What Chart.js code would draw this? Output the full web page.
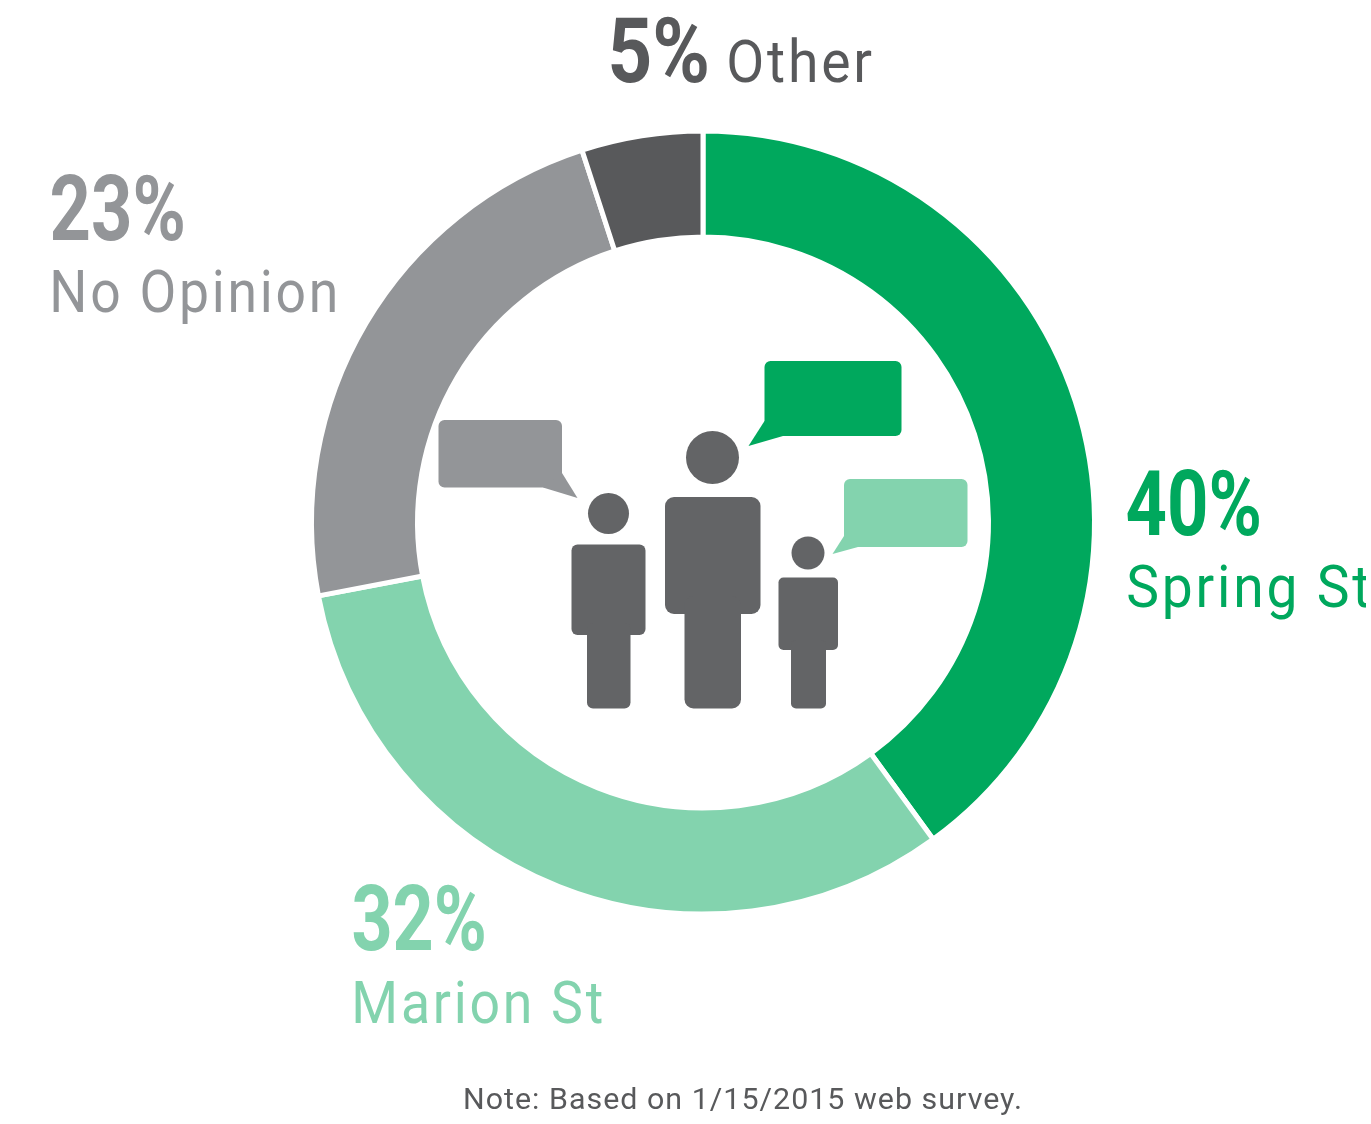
<!DOCTYPE html>
<html><head><meta charset="utf-8">
<style>html,body{margin:0;padding:0;background:#fff;overflow:hidden}#w{width:1371px;height:1124px}</style>
<script src="https://cdn.jsdelivr.net/npm/chart.js@4"></script></head>
<body><div id="w"><canvas id="c" width="1371" height="1124"></canvas></div>
<script>
const categories = ['Spring St','Marion St','No Opinion','Other'];
const values = [40,32,23,5];
const colors = ['#00a85d','#83d3ae','#939598','#58595b'];
const note = 'Note: Based on 1/15/2015 web survey.';
// label layout: [pct x, pct baseline, pct width, name x, name baseline, name width]
const labelPos = [
 [1127,535,132,1128,607,241],
 [353,950,131,355,1023,247],
 [52,240,131,53,312,282],
 [611,82,96,729,82,143]
];
const numFont = 'bold 90px "Liberation Sans Narrow","Roboto",sans-serif';
const nameFont = '400 59px "Roboto","Liberation Sans",sans-serif';
function fit(ctx,t,x,y,w,font,col,ls){
  ctx.save();ctx.font=font;ctx.letterSpacing=ls||'0px';ctx.fillStyle=col;ctx.textBaseline='alphabetic';ctx.textAlign='left';
  const m=ctx.measureText(t),l=m.actualBoundingBoxLeft,wd=m.actualBoundingBoxRight+l;
  const s=w/wd;ctx.translate(x,y);ctx.scale(s,1);ctx.fillText(t,l,0);ctx.restore();
}
function rr(ctx,x0,y0,x1,y1,r,col){ctx.fillStyle=col;ctx.beginPath();ctx.roundRect(x0,y0,x1-x0,y1-y0,r);ctx.fill();}
function bubble(ctx,x0,y0,x1,y1,tail,col){
  rr(ctx,x0,y0,x1,y1,6,col);ctx.beginPath();ctx.moveTo(...tail[0]);ctx.lineTo(...tail[1]);ctx.lineTo(...tail[2]);ctx.closePath();ctx.fill();
}
function person(ctx,hx,hy,hr,b,l,br,col){
  ctx.fillStyle=col;ctx.beginPath();ctx.arc(hx,hy,hr,0,Math.PI*2);ctx.fill();
  rr(ctx,b[0],b[1],b[2],b[3],br,col);
  rr(ctx,l[0],b[3]-br*2,l[1],l[2],br,col);
}
const overlay={id:'overlay',afterDraw(chart){
  const ctx=chart.ctx;ctx.save();
  ctx.save();ctx.beginPath();ctx.rect(0,0,1366,1124);ctx.clip();
  categories.forEach((n,i)=>{const p=labelPos[i];
    fit(ctx,values[i]+'%',p[0],p[1],p[2],numFont,colors[i]);
    fit(ctx,n,p[3],p[4],p[5],nameFont,colors[i],'3px');
  });
  ctx.restore();
  fit(ctx,note,465,1109,555,'400 30px "Roboto",sans-serif','#58595b','1px');
  const g='#636466';
  bubble(ctx,764.5,361,901.5,436,[[764.5,421],[748.5,446],[783,436]],colors[0]);
  bubble(ctx,438.5,420,562,487.5,[[562,473],[577.5,498],[543,487.5]],colors[2]);
  bubble(ctx,844,479,967.5,547,[[844,536],[832.5,554],[858,547]],colors[1]);
  person(ctx,712.5,457.5,26.5,[665,497,760.5,614],[684.5,741,708.5],9,g);
  person(ctx,608.5,513.5,20.5,[571.5,544.5,645.5,635],[587,630.5,708.5],6,g);
  person(ctx,808,553,16.5,[778.5,577.5,838,650],[791,826,708.5],5,g);
  ctx.restore();
}};
new Chart(document.getElementById('c'),{
  type:'doughnut',
  data:{labels:categories,datasets:[{data:values,backgroundColor:colors,borderColor:'#ffffff',borderWidth:5}]},
  options:{responsive:false,animation:false,cutout:'72.92%',
    layout:{padding:{left:309,right:274,top:128.5,bottom:207.5}},
    plugins:{legend:{display:false},tooltip:{enabled:false}}},
  plugins:[overlay]
});
</script></body></html>
